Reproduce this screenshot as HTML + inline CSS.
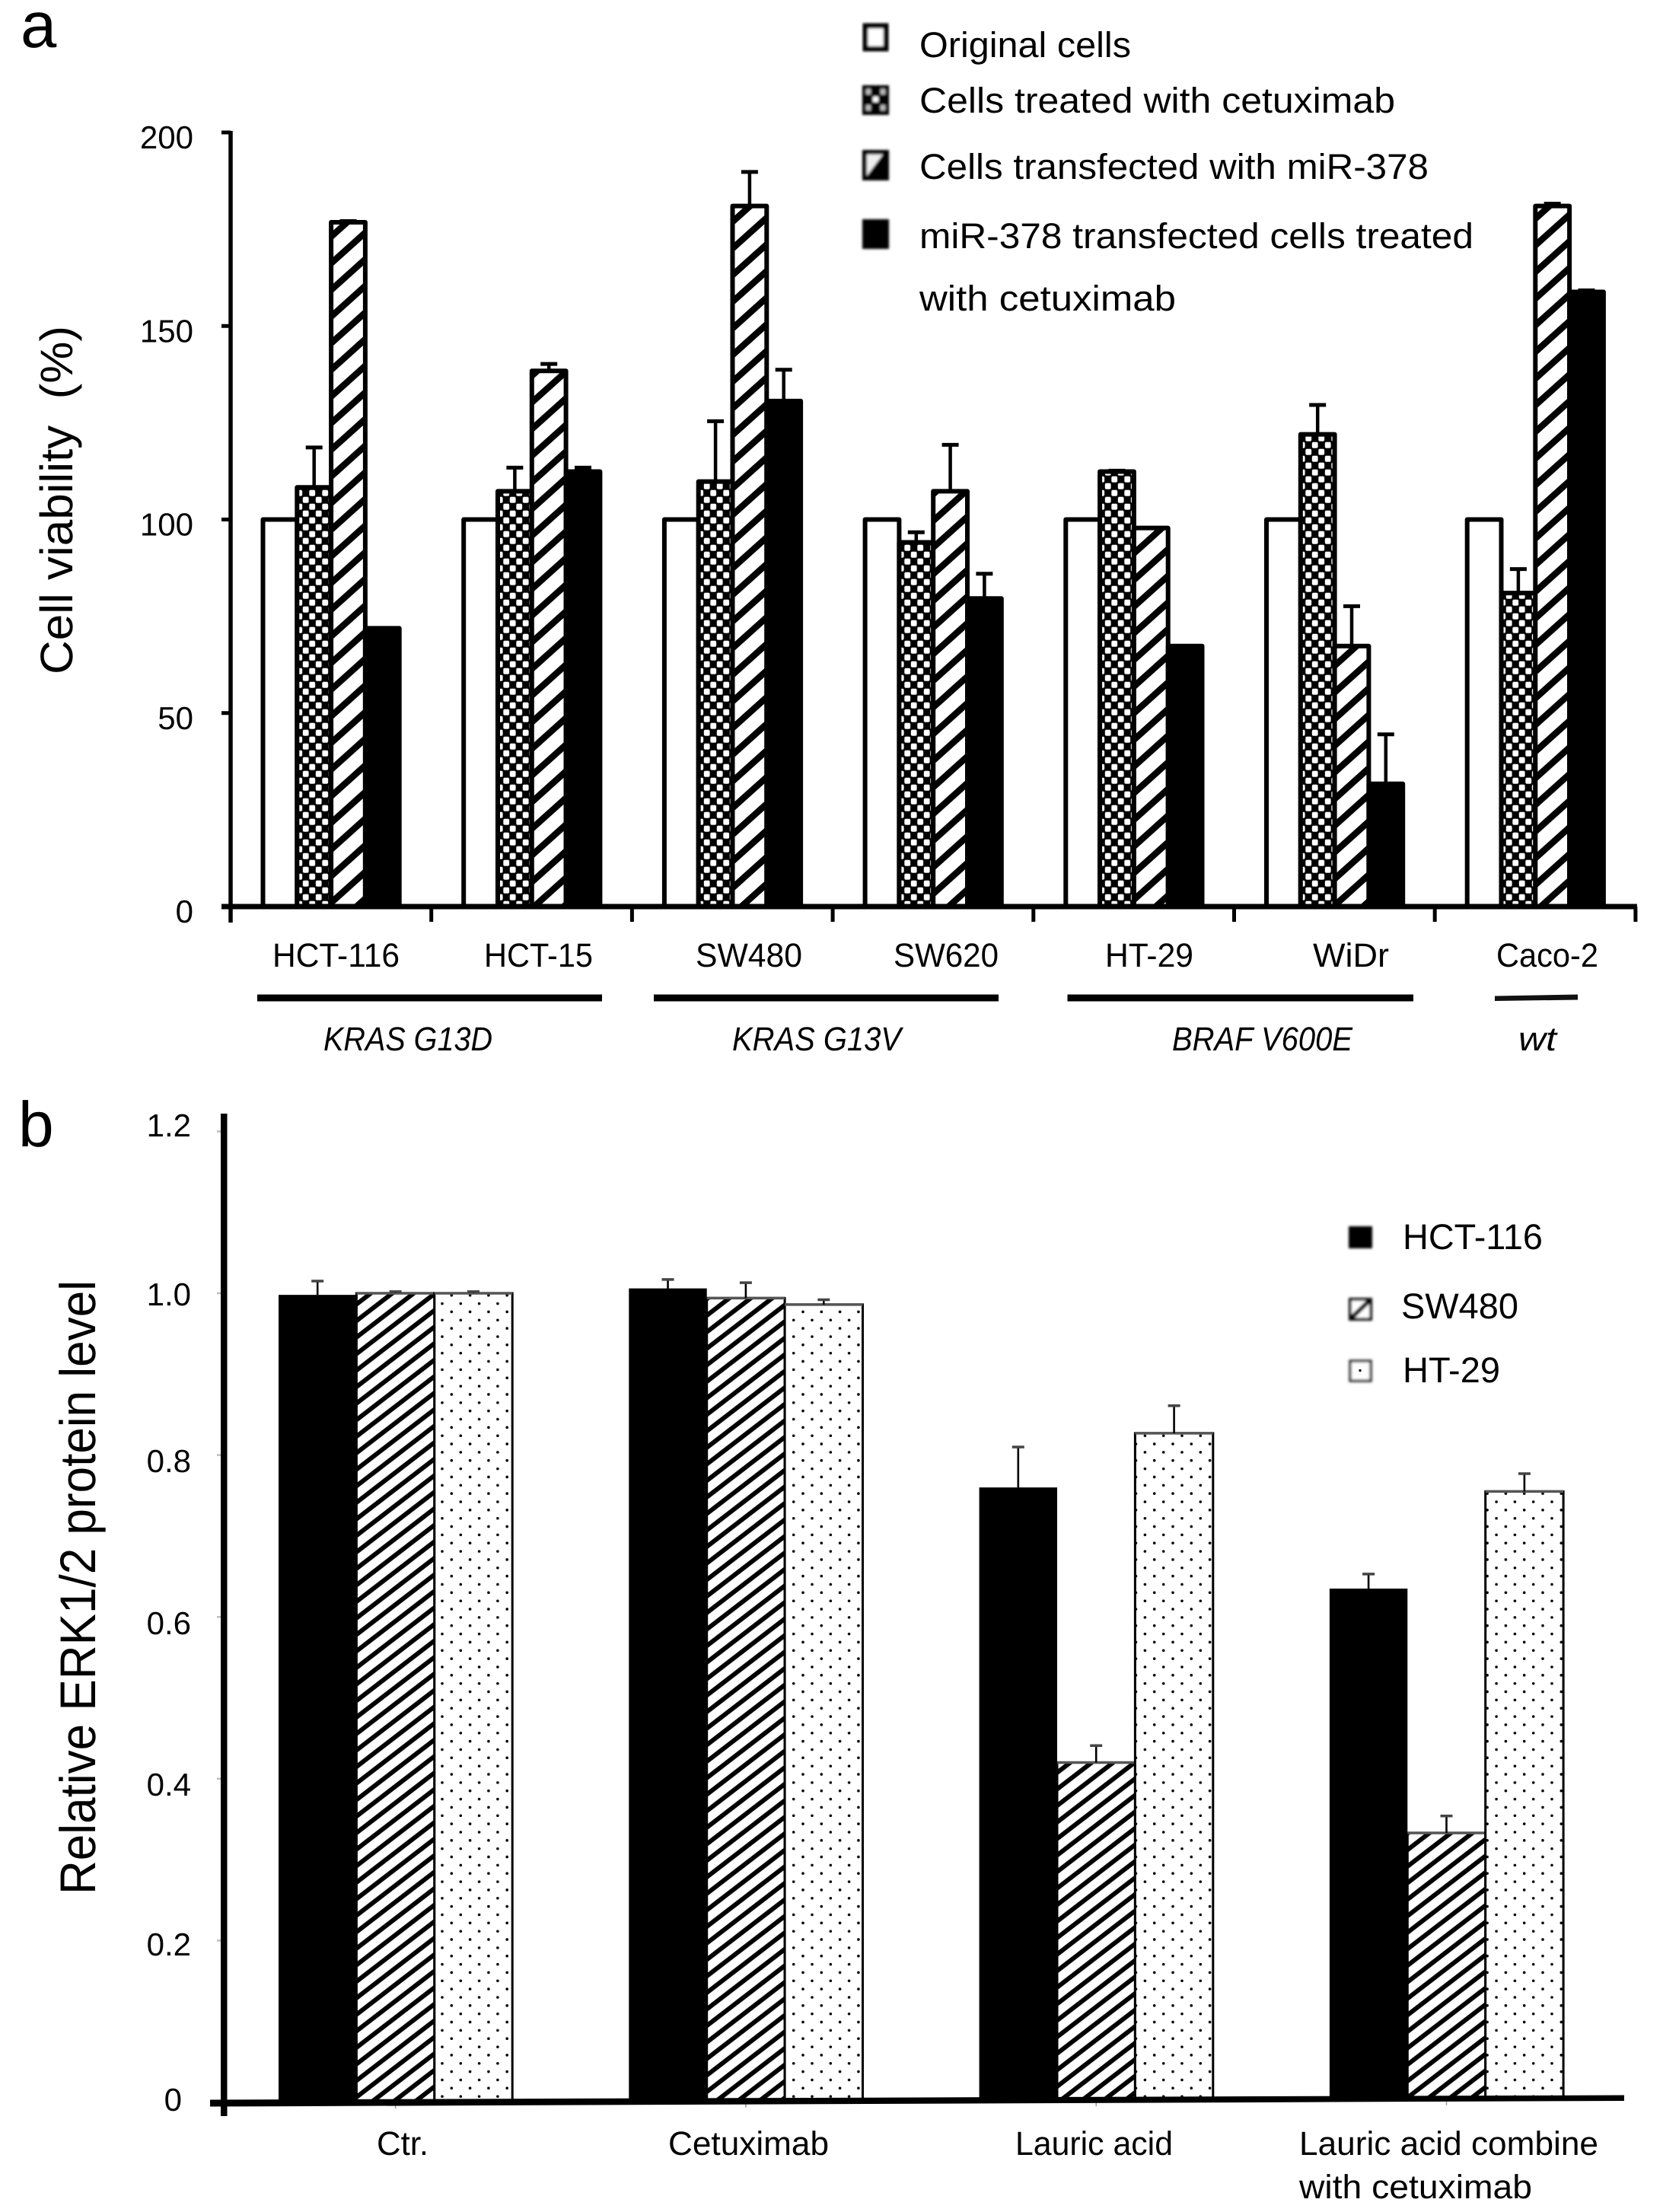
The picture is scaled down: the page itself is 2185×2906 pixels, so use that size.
<!DOCTYPE html>
<html lang="en">
<head>
<meta charset="utf-8">
<title>Cell viability and ERK1/2 protein level charts</title>
<style>
html,body{margin:0;padding:0;background:#fff;}
svg{display:block;}
text{font-family:"Liberation Sans",Arial,sans-serif;fill:#000;text-rendering:geometricPrecision;}
.lab{font-size:44px;}
.leg{font-size:47px;}
.tick{font-size:42px;}
.ital{font-size:44px;font-style:italic;}
</style>
</head>
<body>
<svg id="figure" xmlns="http://www.w3.org/2000/svg" width="2185" height="2906" viewBox="0 0 2185 2906">
  <defs>
    <pattern id="checkA" patternUnits="userSpaceOnUse" width="17" height="18" patternTransform="translate(6.4 4.2)">
      <rect width="17" height="18" fill="#000"/>
      <rect x="0.4" y="0.5" width="7.8" height="8" rx="2" fill="#fff"/>
      <rect x="8.9" y="9.5" width="7.8" height="8" rx="2" fill="#fff"/>
    </pattern>
    <pattern id="hatchA" patternUnits="userSpaceOnUse" width="38.9" height="35">
      <rect width="38.9" height="35" fill="#fff"/>
      <path d="M-38.9 37.4L38.9 -32.6M-38.9 72.4L77.8 -32.6M0 72.4L77.8 2.4" stroke="#000" stroke-width="8.5" fill="none"/>
    </pattern>
    <pattern id="hatchB" patternUnits="userSpaceOnUse" width="28.2" height="21.7">
      <rect width="28.2" height="21.7" fill="#fff"/>
      <path d="M-28.2 34.1L28.2 -9.3M-28.2 55.8L56.4 -9.3" stroke="#000" stroke-width="6" fill="none"/>
    </pattern>
    <pattern id="dotsB" patternUnits="userSpaceOnUse" width="24.3" height="21.7">
      <rect width="24.3" height="21.7" fill="#fff"/>
      <circle cx="10.1" cy="9.1" r="1.8" fill="#000"/>
      <circle cx="22.1" cy="20" r="1.8" fill="#000"/>
    </pattern>
    <filter id="soft" x="-20%" y="-20%" width="140%" height="140%"><feGaussianBlur stdDeviation="1.6"/></filter>
  </defs>

  <!-- Panel a static text -->
  <text x="27" y="62" font-size="85">a</text>
  <text x="95" y="886" font-size="60" textLength="458" lengthAdjust="spacingAndGlyphs" transform="rotate(-90 95 886)">Cell viability&#160; (%)</text>

  <g id="ticklabels-a"></g>

  <g id="plot-a"></g>

  <g>
    <text class="lab" x="358" y="1270" textLength="167" lengthAdjust="spacingAndGlyphs">HCT-116</text>
    <text class="lab" x="636" y="1270" textLength="143" lengthAdjust="spacingAndGlyphs">HCT-15</text>
    <text class="lab" x="914" y="1270" textLength="140" lengthAdjust="spacingAndGlyphs">SW480</text>
    <text class="lab" x="1174" y="1270" textLength="138" lengthAdjust="spacingAndGlyphs">SW620</text>
    <text class="lab" x="1452" y="1270" textLength="116" lengthAdjust="spacingAndGlyphs">HT-29</text>
    <text class="lab" x="1725" y="1270" textLength="100" lengthAdjust="spacingAndGlyphs">WiDr</text>
    <text class="lab" x="1966" y="1270" textLength="134" lengthAdjust="spacingAndGlyphs">Caco-2</text>
  </g>
  <g>
    <rect x="338" y="1306.5" width="453" height="9" fill="#000"/>
    <rect x="859" y="1306.5" width="453" height="9" fill="#000"/>
    <rect x="1402.5" y="1306.5" width="454.5" height="9" fill="#000"/>
    <path d="M1964 1308.5L2073 1306.5V1313.5L1964 1315Z" fill="#111"/>
    <text class="ital" x="425" y="1380" textLength="222" lengthAdjust="spacingAndGlyphs">KRAS G13D</text>
    <text class="ital" x="962" y="1380" textLength="222" lengthAdjust="spacingAndGlyphs">KRAS G13V</text>
    <text class="ital" x="1540" y="1380" textLength="237" lengthAdjust="spacingAndGlyphs">BRAF V600E</text>
    <text class="ital" x="1995" y="1380" textLength="50" lengthAdjust="spacingAndGlyphs">wt</text>
  </g>

  <g>
    <g>
      <rect x="1137" y="34" width="27" height="30" fill="#fff" stroke="#000" stroke-width="7" filter="url(#soft)"/>
      <text class="leg" x="1208" y="75" textLength="278" lengthAdjust="spacingAndGlyphs">Original cells</text>
    </g>
    <g>
      <g filter="url(#soft)">
        <rect x="1133" y="112" width="35" height="39" fill="#000"/>
        <rect x="1138" y="117" width="6" height="7" fill="#bbb"/>
        <rect x="1157" y="117" width="6" height="7" fill="#bbb"/>
        <rect x="1147" y="127" width="7" height="7" fill="#fff"/>
        <rect x="1138" y="138" width="6" height="7" fill="#bbb"/>
        <rect x="1157" y="138" width="6" height="7" fill="#bbb"/>
      </g>
      <text class="leg" x="1208" y="148" textLength="625" lengthAdjust="spacingAndGlyphs">Cells treated with cetuximab</text>
    </g>
    <g>
      <g filter="url(#soft)">
        <rect x="1133" y="197" width="35" height="40" fill="#000"/>
        <path d="M1139 203H1160L1139 231Z" fill="#eee"/>
      </g>
      <text class="leg" x="1208" y="235" textLength="669" lengthAdjust="spacingAndGlyphs">Cells transfected with miR-378</text>
    </g>
    <g>
      <rect x="1133" y="288" width="35" height="39" fill="#000" filter="url(#soft)"/>
      <text class="leg" x="1208" y="326" textLength="728" lengthAdjust="spacingAndGlyphs">miR-378 transfected cells treated</text>
      <text class="leg" x="1208" y="408" textLength="337" lengthAdjust="spacingAndGlyphs">with cetuximab</text>
    </g>
  </g>

  <!-- Panel b static text -->
  <text x="24" y="1506" font-size="84">b</text>
  <text x="125" y="2489" font-size="66" textLength="807" lengthAdjust="spacingAndGlyphs" transform="rotate(-90 125 2489)">Relative ERK1/2 protein level</text>

  <g>
    <text class="tick" x="251" y="1493" text-anchor="end">1.2</text>
    <text class="tick" x="251" y="1715" text-anchor="end">1.0</text>
    <text class="tick" x="251" y="1934" text-anchor="end">0.8</text>
    <text class="tick" x="251" y="2147" text-anchor="end">0.6</text>
    <text class="tick" x="251" y="2359" text-anchor="end">0.4</text>
    <text class="tick" x="251" y="2569" text-anchor="end">0.2</text>
    <text class="tick" x="239" y="2773" text-anchor="end">0</text>
  </g>

  <g id="plot-b"></g>

  <g>
    <text class="lab" x="495" y="2831" textLength="68" lengthAdjust="spacingAndGlyphs">Ctr.</text>
    <text class="lab" x="878" y="2831" textLength="211" lengthAdjust="spacingAndGlyphs">Cetuximab</text>
    <text class="lab" x="1334" y="2831" textLength="207" lengthAdjust="spacingAndGlyphs">Lauric acid</text>
    <text class="lab" x="1707" y="2831" textLength="393" lengthAdjust="spacingAndGlyphs">Lauric acid combine</text>
    <text class="lab" x="1707" y="2888" textLength="306" lengthAdjust="spacingAndGlyphs">with cetuximab</text>
  </g>

  <g>
    <g>
      <rect x="1772" y="1611" width="31" height="29" fill="#000" filter="url(#soft)"/>
      <text class="leg" x="1843" y="1641" textLength="184" lengthAdjust="spacingAndGlyphs">HCT-116</text>
    </g>
    <g>
      <g filter="url(#soft)">
        <rect x="1774" y="1707" width="27" height="26" fill="#fff" stroke="#111" stroke-width="4"/>
        <path d="M1776 1731L1799 1709" stroke="#000" stroke-width="6"/>
      </g>
      <text class="leg" x="1841" y="1732" textLength="154" lengthAdjust="spacingAndGlyphs">SW480</text>
    </g>
    <g>
      <g>
        <rect x="1774" y="1788" width="27" height="26" fill="#fff" stroke="#333" stroke-width="3.5" filter="url(#soft)"/>
        <rect x="1785.5" y="1799" width="3" height="3" fill="#000"/>
      </g>
      <text class="leg" x="1843" y="1816" textLength="128" lengthAdjust="spacingAndGlyphs">HT-29</text>
    </g>
  </g>
</svg>

<script>
// ---- Panel a data ----
const categoriesA = ['HCT-116','HCT-15','SW480','SW620','HT-29','WiDr','Caco-2'];
const yTicksA = [0,50,100,150,200];
const originalCells = [100,100,100,100,100,100,100];
const cetuximabCells = [108.3,107.3,109.8,94.1,112.4,122,81];
const mirCells = [176.8,138.4,181,107.3,97.8,67.3,181];
const comboCells = [71.9,112.4,130.6,79.6,67.3,31.7,158.8];
const cetuximabErr = [10.3,6.1,15.6,2.6,0.2,7.6,6.2];
const mirErr = [0.3,1.8,8.8,12,0,10.3,0.6];
const comboErr = [0,1,8.1,6.4,0,12.8,0.4];

// ---- Panel b data ----
const categoriesB = ['Ctr.','Cetuximab','Lauric acid','Lauric acid combine with cetuximab'];
const yTicksB = [0,0.2,0.4,0.6,0.8,1.0,1.2];
const hct116 = [0.998,1.006,0.760,0.635];
const sw480 = [1.0,0.994,0.42,0.333];
const ht29 = [1.0,0.986,0.827,0.755];
const hct116Err = [0.017,0.011,0.05,0.018];
const sw480Err = [0.002,0.019,0.021,0.021];
const ht29Err = [0.002,0.006,0.034,0.022];

const NS = 'http://www.w3.org/2000/svg';
function mk(parent, tag, attrs, text) {
  const el = document.createElementNS(NS, tag);
  for (const k in attrs) el.setAttribute(k, attrs[k]);
  if (text !== undefined) el.textContent = text;
  parent.appendChild(el);
  return el;
}
function slug(s) { return s.toLowerCase().replace(/[^a-z0-9]+/g, '-'); }

// ---- Panel a axes ----
const plotA = document.getElementById('plot-a');
const labelsA = document.getElementById('ticklabels-a');
const zeroA = 1191, perUnitA = 5.085;
const yA = v => zeroA - perUnitA * v;
const axisLeftA = 303, stepA = 263.7, firstBarA = 345.5, barWidthA = 44.8;
const groupLeftA = i => axisLeftA + i * stepA;
const barLeftA = (g, s) => firstBarA + g * stepA + s * barWidthA;

function errorBarA(g, s, value, err, cat) {
  if (err <= 0) return;
  const cx = barLeftA(g, s) + barWidthA / 2;
  const stem = mk(plotA, 'line', {x1: cx, x2: cx, y1: yA(value), y2: yA(value + err), stroke: '#000', 'stroke-width': 4.5});
  
  
  const cap = mk(plotA, 'line', {x1: cx - 11, x2: cx + 11, y1: yA(value + err), y2: yA(value + err), stroke: '#000', 'stroke-width': 5});
  
  
}

const seriesNamesA = ['original','cetuximab','mir-378','combination'];
const seriesFillsA = ['#fff','url(#checkA)','url(#hatchA)','#000'];
const seriesValuesA = [originalCells, cetuximabCells, mirCells, comboCells];
const seriesErrsA = [null, cetuximabErr, mirErr, comboErr];

categoriesA.forEach((cat, g) => {
  seriesValuesA.forEach((vals, s) => {
    const bar = mk(plotA, 'rect', {
      x: barLeftA(g, s), y: yA(vals[g]), width: barWidthA, height: zeroA - yA(vals[g]),
      fill: seriesFillsA[s], stroke: '#000', 'stroke-width': 6, 'stroke-linejoin': 'round'
    });
    
    
  });
  seriesValuesA.forEach((vals, s) => {
    if (seriesErrsA[s]) errorBarA(g, s, vals[g], seriesErrsA[s][g], cat);
  });
});

const axisYA = mk(plotA, 'line', {x1: axisLeftA, x2: axisLeftA, y1: yA(200) - 2, y2: zeroA + 21, stroke: '#000', 'stroke-width': 5.5});


const axisXA = mk(plotA, 'line', {x1: 291, x2: groupLeftA(7) + 2, y1: zeroA, y2: zeroA, stroke: '#000', 'stroke-width': 7});



yTicksA.forEach(t => {
  const tick = mk(plotA, 'line', {x1: 291, x2: axisLeftA, y1: yA(t), y2: yA(t), stroke: '#000', 'stroke-width': 5});
  
  
  const label = mk(labelsA, 'text', {x: 254, y: yA(t) + 21, 'text-anchor': 'end', class: 'tick'}, String(t));
  
  
});
for (let i = 1; i <= categoriesA.length; i++) {
  const tick = mk(plotA, 'line', {x1: groupLeftA(i), x2: groupLeftA(i), y1: zeroA, y2: zeroA + 20, stroke: '#000', 'stroke-width': 5});
  
  
}

// ---- Panel b axes ----
const plotB = document.getElementById('plot-b');
const zeroB = 2762, perUnitB = 1063;
const yB = v => zeroB - perUnitB * v;
const stepB = 460.3, firstBarB = 366, barWidthB = 102.4;
const barLeftB = (g, s) => firstBarB + g * stepB + s * barWidthB;
const axisLineY = x => 2763 - (x - 276) * 6 / 1858;

const seriesNamesB = ['hct-116','sw480','ht-29'];
const seriesFillsB = ['#000','url(#hatchB)','url(#dotsB)'];
const seriesValuesB = [hct116, sw480, ht29];
const seriesErrsB = [hct116Err, sw480Err, ht29Err];

categoriesB.forEach((cat, g) => {
  seriesValuesB.forEach((vals, s) => {
    const left = barLeftB(g, s);
    const top = yB(vals[g]);
    const bottom = axisLineY(left + barWidthB / 2);
    const bar = mk(plotB, 'rect', {x: left, y: top, width: barWidthB, height: bottom - top, fill: seriesFillsB[s], stroke: s === 0 ? 'none' : '#000', 'stroke-width': 3});
    
    
    if (s > 0) {
      const edge = mk(plotB, 'line', {x1: left, x2: left + barWidthB, y1: top, y2: top, stroke: '#555', 'stroke-width': 3.5});
      
      
    }
  });
  seriesValuesB.forEach((vals, s) => {
    const cx = barLeftB(g, s) + barWidthB / 2;
    const errTop = yB(vals[g] + seriesErrsB[s][g]);
    const stem = mk(plotB, 'line', {x1: cx, x2: cx, y1: yB(vals[g]), y2: errTop, stroke: '#000', 'stroke-width': 2.6});
    
    
    const cap = mk(plotB, 'line', {x1: cx - 8, x2: cx + 8, y1: errTop, y2: errTop, stroke: '#444', 'stroke-width': 3.5});
    
    
  });
  const mid = barLeftB(g, 1) + barWidthB / 2;
  const xt = mk(plotB, 'line', {x1: mid, x2: mid, y1: axisLineY(mid), y2: axisLineY(mid) + 8, stroke: '#999', 'stroke-width': 1.5});
  
  
});

const axisYB = mk(plotB, 'rect', {x: 290, y: 1463, width: 8.5, height: 1317, fill: '#000'});


const axisXB = mk(plotB, 'path', {d: 'M276 ' + (axisLineY(276) - 4.5) + 'L2134 ' + (axisLineY(2134) - 4.5) + 'V' + (axisLineY(2134) + 3) + 'L276 ' + (axisLineY(276) + 4.5) + 'Z', fill: '#000'});


yTicksB.forEach(t => {
  if (t === 0) return;
  const tick = mk(plotB, 'line', {x1: 285, x2: 290, y1: yB(t), y2: yB(t), stroke: '#bbb', 'stroke-width': 2.5});
  
  
});
</script>
</body>
</html>
